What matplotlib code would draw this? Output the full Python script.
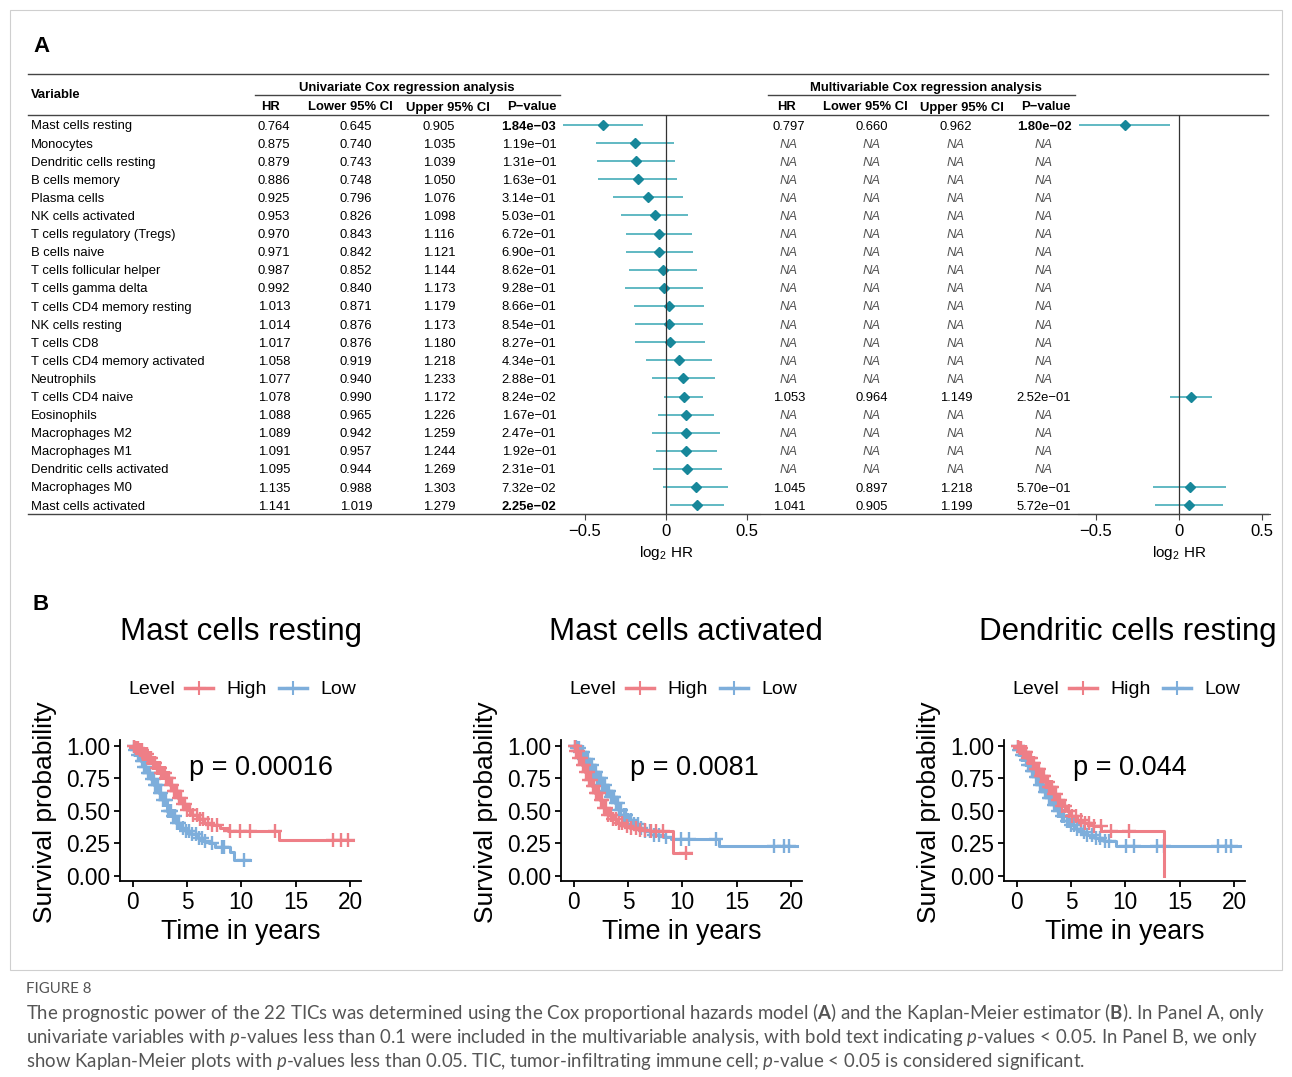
import numpy as np
import matplotlib.pyplot as plt
from matplotlib.patches import Rectangle

plt.rcParams['font.family'] = ['Liberation Sans', 'DejaVu Sans']
plt.rcParams['mathtext.fontset'] = 'custom'
plt.rcParams['mathtext.rm'] = 'Liberation Sans'
plt.rcParams['mathtext.it'] = 'Lato:italic'
plt.rcParams['mathtext.bf'] = 'Lato:bold'

# ---- Panel A data (Cox regression) ----
variables = ["Mast cells resting", "Monocytes", "Dendritic cells resting", "B cells memory",
             "Plasma cells", "NK cells activated", "T cells regulatory (Tregs)", "B cells naive",
             "T cells follicular helper", "T cells gamma delta", "T cells CD4 memory resting",
             "NK cells resting", "T cells CD8", "T cells CD4 memory activated", "Neutrophils",
             "T cells CD4 naive", "Eosinophils", "Macrophages M2", "Macrophages M1",
             "Dendritic cells activated", "Macrophages M0", "Mast cells activated"]
uni_hr = [0.764, 0.875, 0.879, 0.886, 0.925, 0.953, 0.970, 0.971, 0.987, 0.992, 1.013,
          1.014, 1.017, 1.058, 1.077, 1.078, 1.088, 1.089, 1.091, 1.095, 1.135, 1.141]
uni_lo = [0.645, 0.740, 0.743, 0.748, 0.796, 0.826, 0.843, 0.842, 0.852, 0.840, 0.871,
          0.876, 0.876, 0.919, 0.940, 0.990, 0.965, 0.942, 0.957, 0.944, 0.988, 1.019]
uni_hi = [0.905, 1.035, 1.039, 1.050, 1.076, 1.098, 1.116, 1.121, 1.144, 1.173, 1.179,
          1.173, 1.180, 1.218, 1.233, 1.172, 1.226, 1.259, 1.244, 1.269, 1.303, 1.279]
uni_p = [1.84e-03, 1.19e-01, 1.31e-01, 1.63e-01, 3.14e-01, 5.03e-01, 6.72e-01, 6.90e-01,
         8.62e-01, 9.28e-01, 8.66e-01, 8.54e-01, 8.27e-01, 4.34e-01, 2.88e-01, 8.24e-02,
         1.67e-01, 2.47e-01, 1.92e-01, 2.31e-01, 7.32e-02, 2.25e-02]
na = np.nan
multi_hr = [0.797] + [na] * 14 + [1.053] + [na] * 4 + [1.045, 1.041]
multi_lo = [0.660] + [na] * 14 + [0.964] + [na] * 4 + [0.897, 0.905]
multi_hi = [0.962] + [na] * 14 + [1.149] + [na] * 4 + [1.218, 1.199]
multi_p = [1.80e-02] + [na] * 14 + [2.52e-01] + [na] * 4 + [5.70e-01, 5.72e-01]

# ---- Panel B data (Kaplan-Meier), knots ----
mcr_high_t = [0, 0.3, 0.6, 1.0, 1.4, 1.8, 2.2, 2.6, 3.0, 3.4, 3.8, 4.2, 4.6, 5.0, 5.5, 6.0, 6.6, 7.3, 8.0, 8.8, 13.5]
mcr_high_s = [1.0, 0.985, 0.965, 0.94, 0.91, 0.87, 0.83, 0.79, 0.75, 0.70, 0.65, 0.60, 0.555, 0.51, 0.47, 0.44, 0.41, 0.39, 0.37, 0.345, 0.275]
mcr_high_end = 20.3
mcr_high_cens = [0.15, 0.35, 0.55, 0.7, 0.85, 1.0, 1.15, 1.3, 1.45, 1.6, 1.7, 1.85, 2.0, 2.1, 2.25, 2.4,
                 2.5, 2.65, 2.8, 2.95, 3.1, 3.2, 3.35, 3.5, 3.65, 3.8, 3.95, 4.1, 4.25, 4.45, 4.6, 4.8,
                 5.0, 5.3, 5.6, 5.9, 6.2, 6.5, 6.9, 7.3, 7.8, 8.95, 9.9, 10.8, 13.1, 18.4, 19.2, 19.8]
mcr_low_t = [0, 0.2, 0.5, 0.8, 1.1, 1.4, 1.7, 2.0, 2.4, 2.8, 3.2, 3.6, 4.0, 4.4, 4.9, 5.4, 6.0, 6.5, 7.0, 7.6, 9.0, 9.3]
mcr_low_s = [1.0, 0.97, 0.93, 0.885, 0.84, 0.79, 0.745, 0.70, 0.64, 0.58, 0.50, 0.46, 0.41, 0.37, 0.345, 0.32, 0.29, 0.27, 0.25, 0.225, 0.18, 0.12]
mcr_low_end = 10.8
mcr_low_cens = [0.1, 0.25, 0.4, 0.55, 0.7, 0.85, 0.95, 1.1, 1.25, 1.4, 1.5, 1.65, 1.8, 1.95, 2.1, 2.2,
                2.35, 2.5, 2.65, 2.8, 2.95, 3.1, 3.25, 3.4, 3.55, 3.7, 3.9, 4.1, 4.3, 4.6, 4.9, 5.2,
                5.5, 5.8, 6.1, 6.4, 6.7, 7.3, 8.2, 8.4, 10.25]

mca_high_t = [0, 0.2, 0.5, 0.8, 1.1, 1.4, 1.7, 2.0, 2.4, 2.8, 3.2, 3.6, 4.0, 4.6, 5.2, 6.0, 7.0, 9.1]
mca_high_s = [1.0, 0.96, 0.91, 0.85, 0.80, 0.74, 0.69, 0.635, 0.58, 0.52, 0.47, 0.44, 0.41, 0.385, 0.365, 0.355, 0.343, 0.175]
mca_high_end = 10.8
mca_high_cens = [0.1, 0.25, 0.4, 0.55, 0.7, 0.85, 1.0, 1.15, 1.3, 1.45, 1.6, 1.75, 1.9, 2.05, 2.2, 2.35,
                 2.5, 2.65, 2.8, 3.0, 3.2, 3.4, 3.6, 3.9, 4.2, 4.5, 4.9, 5.3, 5.7, 6.1, 6.6, 7.1, 7.6,
                 8.2, 10.35]
mca_low_t = [0, 0.3, 0.6, 1.0, 1.4, 1.8, 2.2, 2.6, 3.0, 3.4, 3.8, 4.2, 4.6, 5.0, 5.5, 6.0, 6.6, 7.4, 8.2, 9.0, 13.4]
mca_low_s = [1.0, 0.98, 0.95, 0.90, 0.85, 0.80, 0.755, 0.70, 0.655, 0.61, 0.56, 0.51, 0.47, 0.43, 0.395, 0.37, 0.345, 0.315, 0.295, 0.285, 0.23]
mca_low_end = 20.5
mca_low_cens = [0.1, 0.2, 0.35, 0.5, 0.6, 0.75, 0.9, 1.0, 1.15, 1.3, 1.4, 1.55, 1.7, 1.8, 1.95, 2.1,
                2.2, 2.35, 2.5, 2.6, 2.75, 2.9, 3.0, 3.15, 3.3, 3.45, 3.6, 3.75, 3.9, 4.05, 4.2, 4.4,
                4.6, 4.8, 5.0, 5.3, 5.6, 5.9, 6.2, 6.6, 7.0, 7.4, 7.9, 8.5, 9.9, 10.6, 13.1, 18.4,
                19.3, 19.8]

dcr_high_t = [0, 0.3, 0.6, 1.0, 1.4, 1.8, 2.2, 2.6, 3.0, 3.4, 3.8, 4.2, 4.6, 5.0, 5.6, 6.2, 7.0, 7.8, 13.6]
dcr_high_s = [1.0, 0.98, 0.95, 0.91, 0.87, 0.82, 0.77, 0.72, 0.68, 0.63, 0.58, 0.54, 0.50, 0.46, 0.43, 0.41, 0.38, 0.343, 0.0]
dcr_high_end = 13.6
dcr_high_cens = [0.15, 0.3, 0.45, 0.6, 0.75, 0.9, 1.05, 1.2, 1.35, 1.5, 1.65, 1.8, 1.95, 2.1, 2.25, 2.4,
                 2.55, 2.7, 2.85, 3.0, 3.15, 3.3, 3.45, 3.6, 3.8, 4.0, 4.2, 4.5, 4.8, 5.1, 5.5, 5.9,
                 6.3, 6.7, 7.1, 7.75, 8.7, 10.35]
dcr_low_t = [0, 0.2, 0.5, 0.8, 1.1, 1.4, 1.8, 2.2, 2.6, 3.0, 3.4, 3.8, 4.2, 4.6, 5.0, 5.5, 6.0, 6.5, 7.2, 8.0, 9.1]
dcr_low_s = [1.0, 0.97, 0.93, 0.89, 0.85, 0.81, 0.76, 0.70, 0.645, 0.595, 0.545, 0.495, 0.46, 0.42, 0.39, 0.36, 0.335, 0.315, 0.29, 0.265, 0.227]
dcr_low_end = 20.5
dcr_low_cens = [0.1, 0.2, 0.35, 0.5, 0.6, 0.75, 0.85, 1.0, 1.1, 1.25, 1.4, 1.5, 1.65, 1.8, 1.9, 2.05,
                2.2, 2.3, 2.45, 2.6, 2.7, 2.85, 3.0, 3.1, 3.25, 3.4, 3.55, 3.7, 3.85, 4.0, 4.2, 4.4,
                4.6, 4.8, 5.0, 5.3, 5.6, 5.9, 6.2, 6.5, 6.9, 7.3, 7.7, 8.1, 8.5, 10.05, 10.8, 12.95,
                13.55, 18.5, 19.25, 19.7]

km_titles = ["Mast cells resting", "Mast cells activated", "Dendritic cells resting"]
km_pvals = ["p = 0.00016", "p = 0.0081", "p = 0.044"]

W, H = 1292, 1077
fig = plt.figure(figsize=(W / 100, H / 100), dpi=100)
bg = fig.add_axes([0, 0, 1, 1])
bg.set_xlim(0, W)
bg.set_ylim(H, 0)
bg.axis('off')


def px_axes(x0, y0, x1, y1):
    return fig.add_axes([x0 / W, 1 - y1 / H, (x1 - x0) / W, (y1 - y0) / H])


def fmt_p(p):
    return f"{p:.2e}".replace('-', '\u2212')


bg.add_patch(Rectangle((10, 10), 1272, 960, fill=False, ec='#cfcfcf', lw=0.8))
bg.text(41, 46, 'A', size=16, weight='bold', ha='center', va='center')
bg.text(41, 604, 'B', size=16, weight='bold', ha='center', va='center')

# ---- table ----
fs = 9.4
dy = 1.5  # small baseline nudge
line_c = '#444444'
for y, x0, x1 in [(74, 28, 1268), (115, 28, 1268), (514, 28, 1268), (95, 255, 560), (95, 768, 1075)]:
    bg.plot([x0, x1], [y, y], color=line_c, lw=1.0)
bg.text(31, 93 + dy, 'Variable', size=fs, weight='bold', va='center')
bg.text(407, 86 + dy, 'Univariate Cox regression analysis', size=fs, weight='bold', ha='center', va='center')
bg.text(926, 86 + dy, 'Multivariable Cox regression analysis', size=fs, weight='bold', ha='center', va='center')
headers = ['HR', 'Lower 95% CI', 'Upper 95% CI', 'P\u2212value']
for hx, h in zip([271, 350, 448, 532], headers):
    bg.text(hx, 106 + dy, h, size=fs, weight='bold', ha='center', va='center')
for hx, h in zip([786, 865, 962, 1046], headers):
    bg.text(hx, 106 + dy, h, size=fs, weight='bold', ha='center', va='center')

row_y = 125 + 18.1 * np.arange(len(variables))
for i, name in enumerate(variables):
    y = row_y[i] + dy
    bg.text(31, y, name, size=fs, va='center')
    vals = [f"{uni_hr[i]:.3f}", f"{uni_lo[i]:.3f}", f"{uni_hi[i]:.3f}", fmt_p(uni_p[i])]
    for j, (cx, v) in enumerate(zip([274, 356, 439, 529], vals)):
        w = 'bold' if (j == 3 and uni_p[i] < 0.05) else 'normal'
        bg.text(cx, y, v, size=fs, ha='center', va='center', weight=w)
    if np.isnan(multi_hr[i]):
        for cx in [789, 872, 956, 1044]:
            bg.text(cx, y, 'NA', size=fs, ha='center', va='center', style='italic', color='#555555')
    else:
        vals = [f"{multi_hr[i]:.3f}", f"{multi_lo[i]:.3f}", f"{multi_hi[i]:.3f}", fmt_p(multi_p[i])]
        for j, (cx, v) in enumerate(zip([789, 872, 956, 1044], vals)):
            w = 'bold' if (j == 3 and multi_p[i] < 0.05) else 'normal'
            bg.text(cx, y, v, size=fs, ha='center', va='center', weight=w)

# ---- forest plots ----
line_teal = '#45adb9'
dot_teal = '#17879a'
n = len(variables)
for box, xl, hr, lo, hi, xc in [((560, 115, 760, 514), (-0.654, 0.58), uni_hr, uni_lo, uni_hi, 666),
                                ((1078, 115, 1270, 514), (-0.607, 0.547), multi_hr, multi_lo, multi_hi, 1179)]:
    ax = px_axes(*box)
    ax.patch.set_alpha(0)
    rows = np.arange(n)
    ax.hlines(rows, np.log2(lo), np.log2(hi), color=line_teal, lw=1.2)
    ax.plot(np.log2(hr), rows, 'D', color=dot_teal, ms=5.5, ls='none')
    ax.axvline(0, color='#333333', lw=0.9)
    ax.set_xlim(*xl)
    ax.set_ylim(21.49, -0.55)
    for s in ['top', 'right', 'left']:
        ax.spines[s].set_visible(False)
    ax.spines['bottom'].set_color(line_c)
    ax.set_yticks([])
    ax.set_xticks([-0.5, 0, 0.5])
    ax.set_xticklabels(['\u22120.5', '0', '0.5'])
    ax.tick_params(axis='x', direction='out', length=4, width=0.8, labelsize=12, pad=3.5, color=line_c)
    bg.text(xc, 553, r'log$_2$ HR', size=11, ha='center', va='center')

# ---- Kaplan-Meier plots ----
red = '#ee7f87'
blue = '#7eaedb'
km_sets = [
    (mcr_high_t, mcr_high_s, mcr_high_end, mcr_high_cens, mcr_low_t, mcr_low_s, mcr_low_end, mcr_low_cens),
    (mca_high_t, mca_high_s, mca_high_end, mca_high_cens, mca_low_t, mca_low_s, mca_low_end, mca_low_cens),
    (dcr_high_t, dcr_high_s, dcr_high_end, dcr_high_cens, dcr_low_t, dcr_low_s, dcr_low_end, dcr_low_cens),
]


def km_curve(ax, t, s, t_end, cens, color):
    t = np.asarray(t)
    s = np.asarray(s)
    ax.step(np.append(t, t_end), np.append(s, s[-1]), where='post', color=color, lw=2.2)
    idx = np.searchsorted(t, cens, side='right') - 1
    ax.plot(cens, s[idx], '+', color=color, ms=10, mew=1.7, ls='none')


title_x = [241, 686, 1128]
for k, left in enumerate([120, 561, 1004]):
    ax = px_axes(left, 740, left + 241, 881)
    ax.patch.set_alpha(0)
    ht, hs, he, hc, lt, ls_, le, lc = km_sets[k]
    km_curve(ax, lt, ls_, le, lc, blue)
    km_curve(ax, ht, hs, he, hc, red)
    ax.set_xlim(-1.15, 21.0)
    ax.set_ylim(-0.04, 1.045)
    ax.spines['top'].set_visible(False)
    ax.spines['right'].set_visible(False)
    for s in ['left', 'bottom']:
        ax.spines[s].set_linewidth(1.3)
    ax.set_xticks([0, 5, 10, 15, 20])
    ax.set_yticks([0, 0.25, 0.5, 0.75, 1.0])
    ax.set_yticklabels(['0.00', '0.25', '0.50', '0.75', '1.00'])
    ax.tick_params(direction='out', length=4, width=1.3, labelsize=16.3, pad=3)
    ax.text(5.2, 0.83, km_pvals[k], size=19.5, va='center', ha='left')

    cx = left + 121
    bg.text(title_x[k], 632, km_titles[k], size=22.5, ha='center', va='center')
    bg.text(left - 75, 812, 'Survival probability', size=19, rotation=90, ha='center', va='center')
    bg.text(cx, 932, 'Time in years', size=19.3, ha='center', va='center')
    # legend
    bg.text(left + 8, 689, 'Level', size=14, va='center')
    for x0, col, lab in [(left + 65, red, 'High'), (left + 159, blue, 'Low')]:
        bg.plot([x0, x0 + 28], [688, 688], color=col, lw=2.5)
        bg.plot([x0 + 14], [688], '+', color=col, ms=10, mew=1.5)
        bg.text(x0 + 41, 689, lab, size=14, va='center')

# ---- caption ----
cap_c = '#555555'
bg.text(26, 989, 'FIGURE 8', size=10.8, color=cap_c, family='Lato', va='center')
caption = [
    r"The prognostic power of the 22 TICs was determined using the Cox proportional hazards model ($\mathbf{A}$) and the Kaplan-Meier estimator ($\mathbf{B}$). In Panel A, only",
    r"univariate variables with $\mathit{p}$-values less than 0.1 were included in the multivariable analysis, with bold text indicating $\mathit{p}$-values < 0.05. In Panel B, we only",
    r"show Kaplan-Meier plots with $\mathit{p}$-values less than 0.05. TIC, tumor-infiltrating immune cell; $\mathit{p}$-value < 0.05 is considered significant.",
]
for i, line in enumerate(caption):
    bg.text(26, 1013 + 24 * i, line, size=13.4, color=cap_c, family='Lato', va='center')

fig.savefig('out.png', dpi=100)
